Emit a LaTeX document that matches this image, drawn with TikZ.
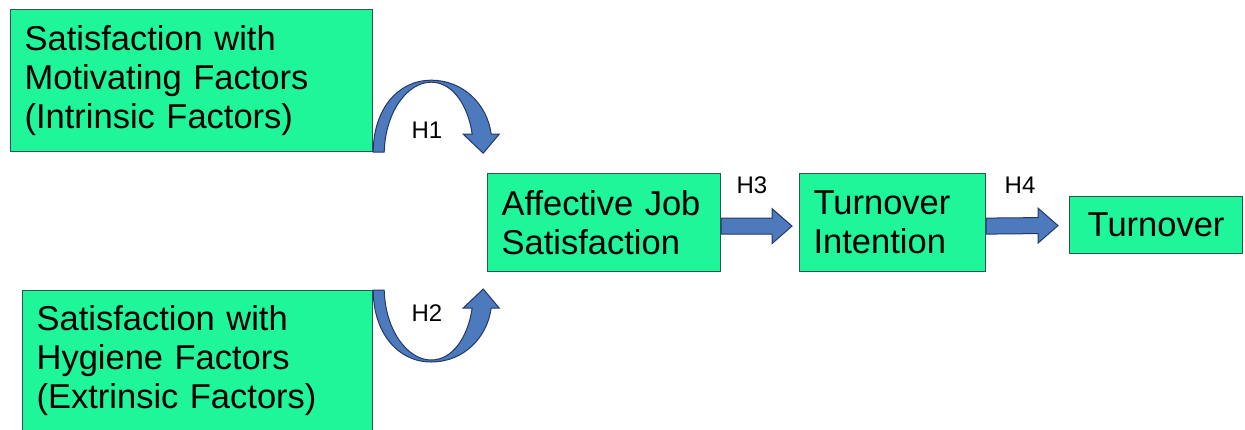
\documentclass[tikz,border=0pt]{standalone}
\usepackage{fontspec}
\setmainfont{Liberation Sans}
\usetikzlibrary{calc}

\newlength{\du}
\setlength{\du}{1pt}

\definecolor{boxfill}{rgb}{0.12,0.96,0.60}
\definecolor{boxline}{rgb}{0.18,0.34,0.30}
\definecolor{arrowfill}{rgb}{0.30,0.48,0.74}
\definecolor{arrowline}{rgb}{0.14,0.22,0.40}

\tikzset{
  factorbox/.style={draw=boxline, fill=boxfill, line width=1.2\du, align=left,
    inner xsep=14\du, inner ysep=0pt, anchor=north west,
    font=\fontsize{34.5}{39}\selectfont},
  hlabel/.style={font=\fontsize{24}{28}\selectfont, inner sep=0pt},
  blockarrow/.style={draw=arrowline, fill=arrowfill, line width=1\du, line join=miter},
}

% bent block arrow, drawn from the corner of the box it leaves
\newcommand{\bentarrow}{%
  \filldraw[blockarrow] (0\du,0\du) .. controls (0\du,-42\du) and (24\du,-72\du) .. (58\du,-72\du)
    .. controls (90\du,-72\du) and (114\du,-48\du) .. (118\du,-18\du)
    -- (126\du,-18\du) -- (110\du,1\du) -- (90\du,-18\du) -- (99\du,-18\du)
    .. controls (95\du,-46\du) and (80\du,-70\du) .. (58\du,-70\du)
    .. controls (34\du,-70\du) and (12\du,-40\du) .. (11\du,0\du) -- cycle;}

% straight block arrow from #1 to the tip #2 (same height)
\newcommand{\straightarrow}[2]{%
  \filldraw[blockarrow] ($(#1)+(0,-8\du)$) -- ($(#2)+(-20\du,-8\du)$)
    -- ($(#2)+(-20\du,-17.5\du)$) -- (#2) -- ($(#2)+(-20\du,17.5\du)$)
    -- ($(#2)+(-20\du,8\du)$) -- ($(#1)+(0,8\du)$) -- cycle;}

\begin{document}
\begin{tikzpicture}
\pgftransformxscale{1.000000}
\pgftransformyscale{-1.000000}
\useasboundingbox (0\du,0\du) rectangle (1245\du,429\du);

% the five boxes
\node[factorbox, text width=334\du, minimum width=362\du, minimum height=142\du] (motiv) at (10\du,9\du)
  {Satisfaction with\\Motivating Factors\\(Intrinsic Factors)};
\node[factorbox, text width=322\du, minimum width=350\du, minimum height=140\du] (hygiene) at (22\du,290\du)
  {Satisfaction with\\Hygiene Factors\\(Extrinsic Factors)};
\node[factorbox, text width=205\du, minimum width=233\du, minimum height=98\du] (affect) at (487\du,173\du)
  {Affective Job\\Satisfaction};
\node[factorbox, text width=158\du, minimum width=186\du, minimum height=98\du] (intent) at (799\du,173\du)
  {Turnover\\Intention};
\node[factorbox, align=center, text width=145\du, minimum width=173\du, minimum height=57\du] (turnover) at (1069\du,196\du)
  {Turnover};

% H1 and H2
\begin{scope}[shift={(motiv.south east)}]
\bentarrow
\end{scope}
\begin{scope}[shift={(hygiene.north east)}, yscale=-1]
\bentarrow
\end{scope}
\node[hlabel] (h1) at (427\du,130\du) {H1};
\node[hlabel] (h2) at (427\du,313\du) {H2};

% H3 and H4
\coordinate (h3s) at ($(affect.east)+(0,3.5\du)$);
\coordinate (h3t) at ($(intent.west)+(-7\du,3.5\du)$);
\straightarrow{h3s}{h3t}
\node[hlabel] (h3) at (752\du,185\du) {H3};

\coordinate (h4s) at ($(intent.east)+(0,3.5\du)$);
\coordinate (h4t) at ($(turnover.west)+(-11\du,0.5\du)$);
\straightarrow{h4s}{h4t}
\node[hlabel] (h4) at (1020\du,185\du) {H4};
\end{tikzpicture}
\end{document}
